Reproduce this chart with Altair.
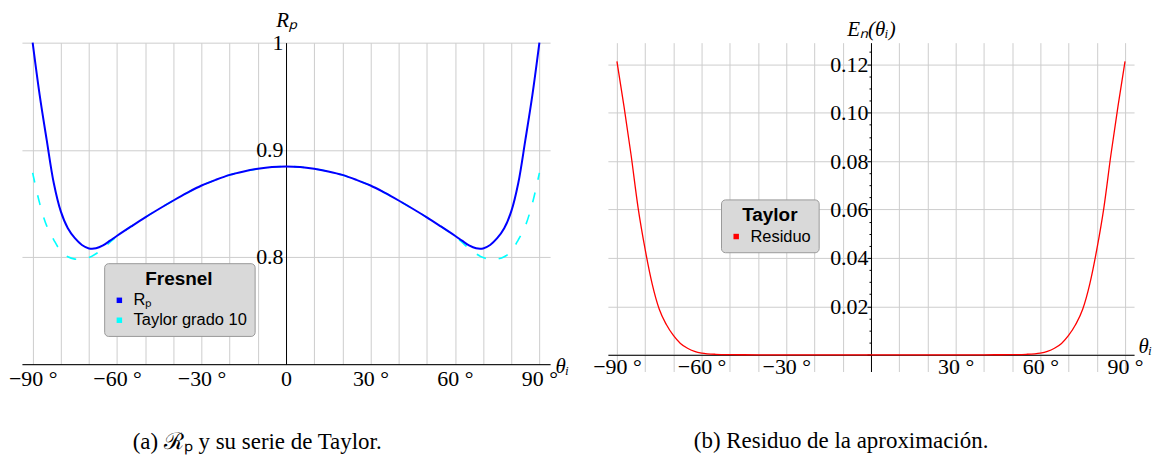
import altair as alt
import pandas as pd

# ---------------- data ----------------
theta = [-90, -87.5, -85, -82.5, -80, -77.5, -75, -72.5, -70, -67.5, -65, -62.5, -60,
         -55, -50, -45, -40, -35, -30, -25, -20, -15, -10, -5,
         0,
         5, 10, 15, 20, 25, 30, 35, 40, 45, 50, 55,
         60, 62.5, 65, 67.5, 70, 72.5, 75, 77.5, 80, 82.5, 85, 87.5, 90]

rp = [1.0000, 0.9510, 0.9090, 0.8690, 0.8425, 0.8268, 0.8175, 0.8112, 0.8080, 0.8081, 0.8108, 0.8152, 0.8198,
      0.8285, 0.8370, 0.8450, 0.8527, 0.8600, 0.8667, 0.8720, 0.8766, 0.8798, 0.8823, 0.8840,
      0.8845,
      0.8840, 0.8823, 0.8798, 0.8766, 0.8720, 0.8667, 0.8600, 0.8527, 0.8450, 0.8370, 0.8285,
      0.8198, 0.8152, 0.8108, 0.8081, 0.8080, 0.8112, 0.8175, 0.8268, 0.8425, 0.8690, 0.9090, 0.9510, 1.0000]

taylor = [0.8785, 0.8500, 0.8290, 0.8160, 0.8055, 0.8002, 0.7980, 0.7978, 0.7995, 0.8030, 0.8078, 0.8138, 0.8192,
          0.8285, 0.8370, 0.8450, 0.8527, 0.8600, 0.8667, 0.8720, 0.8766, 0.8798, 0.8823, 0.8840,
          0.8845,
          0.8840, 0.8823, 0.8798, 0.8766, 0.8720, 0.8667, 0.8600, 0.8527, 0.8450, 0.8370, 0.8285,
          0.8192, 0.8138, 0.8078, 0.8030, 0.7995, 0.7978, 0.7980, 0.8002, 0.8055, 0.8160, 0.8290, 0.8500, 0.8785]

residuo = [0.1212, 0.1026, 0.0826, 0.0607, 0.0435, 0.0292, 0.0188, 0.0125, 0.0080, 0.0047, 0.0027, 0.0014, 0.0007,
           0.0002, 0.00006, 0.00002, 0, 0, 0, 0, 0, 0, 0, 0,
           0,
           0, 0, 0, 0, 0, 0, 0, 0, 0.00002, 0.00006, 0.0002,
           0.0007, 0.0014, 0.0027, 0.0047, 0.0080, 0.0125, 0.0188, 0.0292, 0.0435, 0.0607, 0.0826, 0.1026, 0.1212]

series_left = ["Rₚ", "Taylor grado 10"]
colors_left = ["#0000ff", "#00ffff"]
series_right = ["Residuo"]
colors_right = ["#ff0000"]

x_ticks = [-90, -80, -70, -60, -50, -40, -30, -20, -10, 0, 10, 20, 30, 40, 50, 60, 70, 80, 90]
y_ticks_left = [0.7, 0.8, 0.9, 1.0]
y_ticks_right = [0, 0.02, 0.04, 0.06, 0.08, 0.10, 0.12]
y_minor_right = [0.005, 0.01, 0.015, 0.025, 0.03, 0.035, 0.045, 0.05, 0.055, 0.065, 0.07, 0.075,
                 0.085, 0.09, 0.095, 0.105, 0.11, 0.115, 0.125]

caption_a = "(a) ℛₚ y su serie de Taylor."
caption_b = "(b) Residuo de la aproximación."

# ---------------- tables ----------------
df_rp = pd.DataFrame({"theta": theta, "value": rp, "serie": series_left[0]})
df_tay = pd.DataFrame({"theta": theta, "value": taylor, "serie": series_left[1]})
df_left = pd.concat([df_rp, df_tay], ignore_index=True)
df_res = pd.DataFrame({"theta": theta, "value": residuo, "serie": series_right[0]})

SERIF = "Liberation Serif"
SANS = "Liberation Sans"
GRID = "#cdcdcd"
LBL = 22

W1, H1 = 530, 322.6
W2, H2 = 528, 330

xs_left = alt.Scale(domain=[-93.8, 93.8], nice=False, zero=False)
xs_right = alt.Scale(domain=[-93.2, 93.2], nice=False, zero=False)
ys_left = alt.Scale(domain=[0.7, 1.0], nice=False, zero=False)
ys_right = alt.Scale(domain=[-0.0069, 0.1289], nice=False, zero=False)


def x_axis(expr, offset, pad, title_x, title_y):
    return alt.Axis(values=x_ticks, labelExpr=expr, grid=True, gridColor=GRID, gridWidth=1,
                    domainColor="black", domainWidth=1, ticks=False, tickSize=0,
                    labelPadding=pad, labelFont=SERIF, labelFontSize=LBL, labelColor="black",
                    labelFlush=False, labelOverlap=False, offset=offset,
                    title="θᵢ", titleFont=SERIF, titleFontSize=21, titleFontStyle="italic",
                    titleFontWeight="normal", titleColor="black", titleAngle=0,
                    titleAlign="left", titleBaseline="middle", titleX=title_x, titleY=title_y)


x_axis_left = x_axis("datum.value % 30 != 0 ? '' : (datum.value == 0 ? '0' : format(datum.value, 'd') + ' °')",
                     0, 4, W1 + 5, 2)
x_axis_right = x_axis("(datum.value % 30 != 0 || datum.value == 0) ? '' : format(datum.value, 'd') + ' °'",
                      -(H2 - 0.1289 * H2 / 0.1358), 2, W2 + 4, -8.5)

y_axis_left = alt.Axis(values=y_ticks_left, orient="left", offset=-W1 / 2,
                       labelExpr="datum.value < 0.75 ? '' : format(datum.value, '~g')",
                       grid=True, gridColor=GRID, gridWidth=1, domainColor="black", domainWidth=1,
                       ticks=False, tickSize=0, labelPadding=3, labelFont=SERIF, labelFontSize=LBL,
                       labelColor="black", labelOverlap=False,
                       title="Rₚ", titleFont=SERIF, titleFontSize=21, titleFontStyle="italic",
                       titleFontWeight="normal", titleColor="black", titleAngle=0, titleAlign="center",
                       titleBaseline="alphabetic", titleX=0, titleY=-16.5)

y_axis_right = alt.Axis(values=y_ticks_right, orient="left", offset=-W2 / 2,
                        labelExpr="datum.value == 0 ? '' : format(datum.value, '.2f')",
                        grid=True, gridColor=GRID, gridWidth=1, domainColor="black", domainWidth=1,
                        ticks=True, tickSize=4, tickColor="black", tickWidth=1,
                        labelPadding=-1, labelFont=SERIF, labelFontSize=LBL,
                        labelColor="black", labelOverlap=False,
                        title="Eₙ(θᵢ)", titleFont=SERIF, titleFontSize=21, titleFontStyle="italic",
                        titleFontWeight="normal", titleColor="black", titleAngle=0, titleAlign="center",
                        titleBaseline="alphabetic", titleX=0, titleY=-7)

y_axis_minor = alt.Axis(values=y_minor_right, orient="left", offset=-W2 / 2, labels=False,
                        grid=False, domain=False, ticks=True, tickSize=2, tickColor="black",
                        tickWidth=1, title="")


def legend(title, lx, ly):
    return alt.Legend(title=title, orient="none", legendX=lx, legendY=ly,
                      fillColor="#d9d9d9", strokeColor="#9a9a9a", cornerRadius=4, padding=7,
                      titleFont=SANS, titleFontSize=19, titleFontWeight="bold", titleColor="black",
                      titleAnchor="middle", titlePadding=3,
                      labelFont=SANS, labelFontSize=16.5, labelColor="black", labelOffset=6,
                      symbolType="square", symbolSize=30, symbolStrokeWidth=0, symbolOpacity=1,
                      rowPadding=3)


# shared encodings (same axis object in every layer so that they merge)
xl = alt.X("theta:Q", scale=xs_left, axis=x_axis_left)
yl = alt.Y("value:Q", scale=ys_left, axis=y_axis_left)
xr = alt.X("theta:Q", scale=xs_right, axis=x_axis_right)
yr = alt.Y("value:Q", scale=ys_right, axis=y_axis_right)
yr_minor = alt.Y("value:Q", scale=ys_right, axis=y_axis_minor)

# ---------------- left panel ----------------
tay_line = alt.Chart(df_tay).mark_line(
    color=colors_left[1], strokeWidth=1.6, strokeDash=[10, 13], interpolate="catmull-rom"
).encode(x=xl, y=yl)

rp_line = alt.Chart(df_rp).mark_line(
    color=colors_left[0], strokeWidth=2, interpolate="catmull-rom"
).encode(x=xl, y=yl)

leg_left = alt.Chart(df_left).mark_square(size=0, filled=True).encode(
    x=xl, y=yl,
    color=alt.Color("serie:N", scale=alt.Scale(domain=series_left, range=colors_left),
                    legend=legend("Fresnel", 82.5, 221.3)),
)

left = alt.layer(tay_line, rp_line, leg_left).properties(
    width=W1, height=H1,
    title=alt.TitleParams(caption_a, orient="bottom", anchor="middle", frame="group", dx=-29,
                          offset=42, font=SERIF, fontSize=23, fontWeight="normal", color="black"),
)

# ---------------- right panel ----------------
res_line = alt.Chart(df_res).mark_line(
    color=colors_right[0], strokeWidth=1.3, interpolate="monotone"
).encode(x=xr, y=yr)

leg_right = alt.Chart(df_res).mark_square(size=0, filled=True).encode(
    x=xr, y=yr_minor,
    color=alt.Color("serie:N", scale=alt.Scale(domain=series_right, range=colors_right),
                    legend=legend("Taylor", 113.5, 157.3)),
)

right = alt.layer(res_line, leg_right).resolve_axis(y="independent").properties(
    width=W2, height=H2,
    title=alt.TitleParams(caption_b, orient="bottom", anchor="middle", frame="group", dx=-30,
                          offset=53, font=SERIF, fontSize=23, fontWeight="normal", color="black"),
)

chart = alt.hconcat(left, right, spacing=58, bounds="flush").resolve_scale(
    color="independent"
).resolve_legend(color="independent").configure_view(strokeWidth=0).properties(
    padding={"left": 0, "right": 0, "top": 0, "bottom": 0}, background="white"
)

chart.save("out.html", embed_options={"renderer": "svg", "actions": False})
